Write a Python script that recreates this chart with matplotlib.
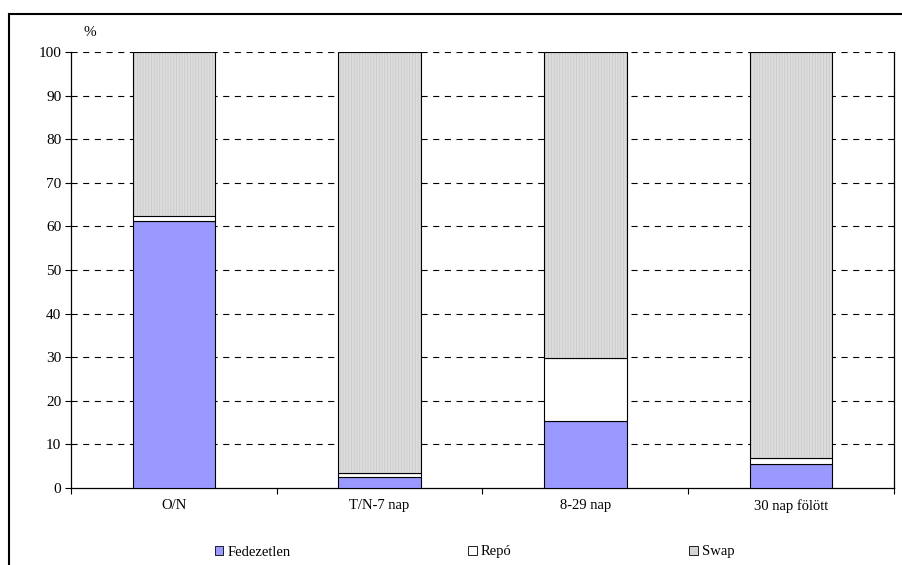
import numpy as np
import matplotlib.pyplot as plt
from matplotlib.patches import Patch, Rectangle

categories = ["O/N", "T/N-7 nap", "8-29 nap", "30 nap fölött"]
fedezetlen = [61.2, 2.5, 15.4, 5.5]
repo = [1.3, 1.0, 14.5, 1.4]
swap = [37.5, 96.5, 70.1, 93.1]
series_names = ["Fedezetlen", "Repó", "Swap"]

plt.rcParams['font.family'] = ['Liberation Serif', 'DejaVu Serif']
plt.rcParams['font.size'] = 10.5
plt.rcParams['hatch.linewidth'] = 0.6

fig = plt.figure(figsize=(9.03, 5.65), dpi=100)
ax = fig.add_axes([71/903, 1-488/565, (894-71)/903, (488-52)/565])

x = np.arange(len(categories))
w = 0.4
fed = np.array(fedezetlen)
rep = np.array(repo)
swp = np.array(swap)

ax.bar(x, fed, w, color='#9999ff', edgecolor='black', linewidth=0.8, zorder=3)
ax.bar(x, rep, w, bottom=fed, color='white', edgecolor='black', linewidth=0.8, zorder=3)
# striped grey fill first, then the black outline on top
ax.bar(x, swp, w, bottom=fed+rep, color='#dddddd', edgecolor='#cacaca', linewidth=0,
       hatch='||||||', zorder=3)
ax.bar(x, swp, w, bottom=fed+rep, fill=False, edgecolor='black', linewidth=0.8, zorder=4)

ax.set_xlim(-0.5, len(categories) - 0.5)
ax.set_ylim(0, 100)
ax.set_yticks(np.arange(0, 101, 10))
ax.set_xticks(x)
ax.set_xticklabels(categories, fontsize=10.5)
ax.set_xticks(np.arange(-0.5, len(categories), 1), minor=True)
ax.tick_params(axis='x', which='major', length=0, pad=8)
ax.tick_params(axis='x', which='minor', length=4, width=0.8, direction='out')
ax.tick_params(axis='y', length=4, width=0.8, pad=3, direction='out', labelsize=11)

for yv in np.arange(10, 101, 10):
    ax.axhline(yv, color='black', linewidth=0.8, dashes=(5.5, 5), zorder=1)

ax.spines['top'].set_visible(False)
for s in ['left', 'bottom', 'right']:
    ax.spines[s].set_linewidth(0.9)

fig.text(89.5/903, 1-33/565, "%", ha='center', va='center', fontsize=11)

handles = [
    Patch(facecolor='#9999ff', edgecolor='black', linewidth=0.6),
    Patch(facecolor='white', edgecolor='black', linewidth=0.6),
    Patch(facecolor='#d4d4d4', edgecolor='black', linewidth=0.6),
]
fig.legend(handles, series_names, loc='center', bbox_to_anchor=(474.5/903, 1-552/565),
           ncol=3, frameon=False, fontsize=10.5, handlelength=0.6, handleheight=0.6,
           handletextpad=0.25, columnspacing=12.2)

# outer frame around the chart
fig.patches.append(Rectangle((8.5/903, -0.1), 1.2, 1-13.7/565+0.1, transform=fig.transFigure,
                             fill=False, edgecolor='black', linewidth=1.5))

fig.savefig("out.png", dpi=100)
